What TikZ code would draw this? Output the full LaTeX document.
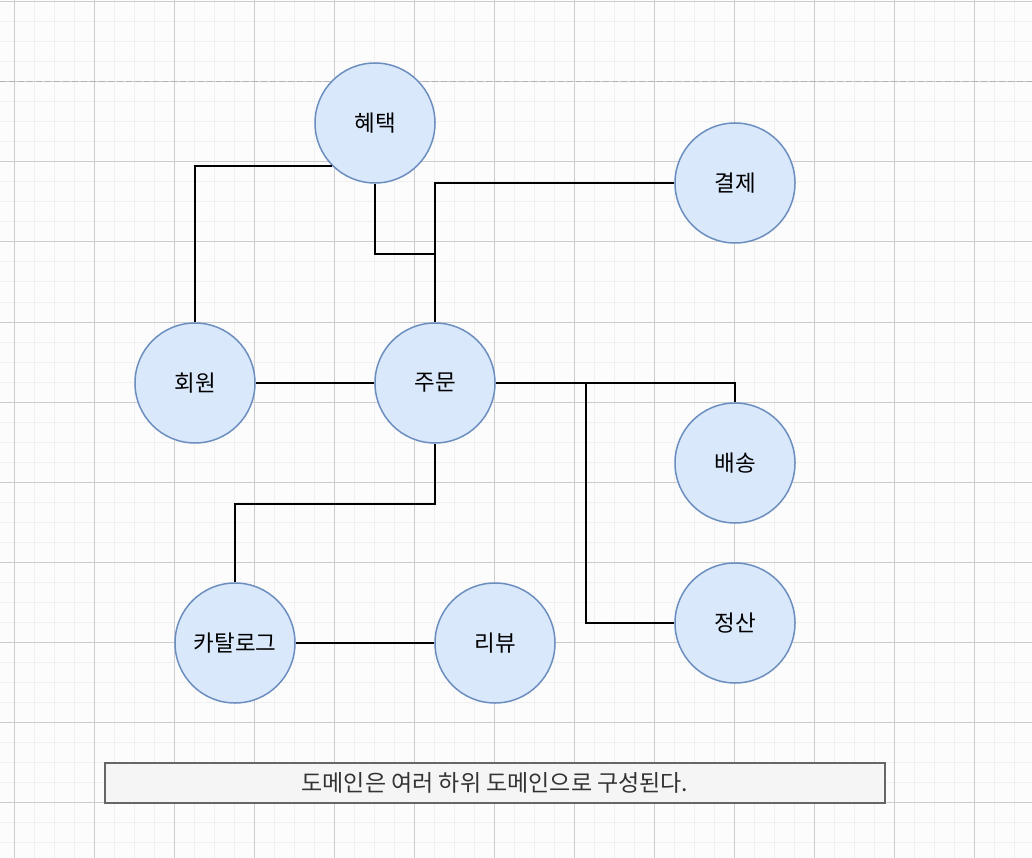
\documentclass[tikz,border=0pt]{standalone}
\usepackage{fontspec}
\setmainfont{Noto Sans CJK KR}
\definecolor{domfill}{HTML}{DAE8FC}
\definecolor{domline}{HTML}{6C8EBF}
\definecolor{capfill}{HTML}{F5F5F5}
\definecolor{capline}{HTML}{666666}
\definecolor{captext}{HTML}{333333}
\begin{document}
\begin{tikzpicture}[x=1pt,y=-1pt,
	minorgrid/.style={draw=black!6,line width=1pt},
	majorgrid/.style={draw=black!20,line width=1pt},
	subdomain/.style={circle,draw=domline,fill=domfill,line width=1.5pt,minimum size=120pt,inner sep=0pt,font=\fontsize{22.5}{26}\selectfont},
	link/.style={line width=2pt},
	caption/.style={draw=capline,fill=capfill,line width=1.5pt,minimum width=780pt,minimum height=40pt,inner sep=0pt,text=captext,font=\fontsize{23}{27}\selectfont}]
	\useasboundingbox (0,0) rectangle (1032,858);
	\fill[black!1] (0,0) rectangle (1032,858);
	\foreach \x in {14,34,...,1032} \draw[minorgrid] (\x,0) -- (\x,858);
	\foreach \y in {2,22,...,858} \draw[minorgrid] (0,\y) -- (1032,\y);
	\foreach \x in {14,94,...,1032} \draw[majorgrid] (\x,0) -- (\x,858);
	\foreach \y in {2,82,...,858} \draw[majorgrid] (0,\y) -- (1032,\y);
	\draw[black!30,line width=1pt,dash pattern=on 6pt off 3pt] (0,82) -- (1032,82);
	\node[subdomain] (benefit) at (375,123) {혜택};
	\node[subdomain] (payment) at (735,183) {결제};
	\node[subdomain] (member) at (195,383) {회원};
	\node[subdomain] (order) at (435,383) {주문};
	\node[subdomain] (delivery) at (735,463) {배송};
	\node[subdomain] (settle) at (735,623) {정산};
	\node[subdomain] (catalog) at (235,643) {카탈로그};
	\node[subdomain] (review) at (495,643) {리뷰};
	\draw[link] (member.north) |- (benefit.south west);
	\draw[link] (benefit.south) -- ++(0,70) -| (order.north);
	\draw[link] (payment.west) -| (order.north);
	\draw[link] (member) -- (order);
	\draw[link] (order.east) -| (delivery.north);
	\draw[link] (order.east) -- ++(90,0) |- (settle.west);
	\draw[link] (order.south) -- ++(0,60) -| (catalog.north);
	\draw[link] (catalog) -- (review);
	\node[caption] (note) at (495,783) {도메인은 여러 하위 도메인으로 구성된다.};
\end{tikzpicture}
\end{document}
